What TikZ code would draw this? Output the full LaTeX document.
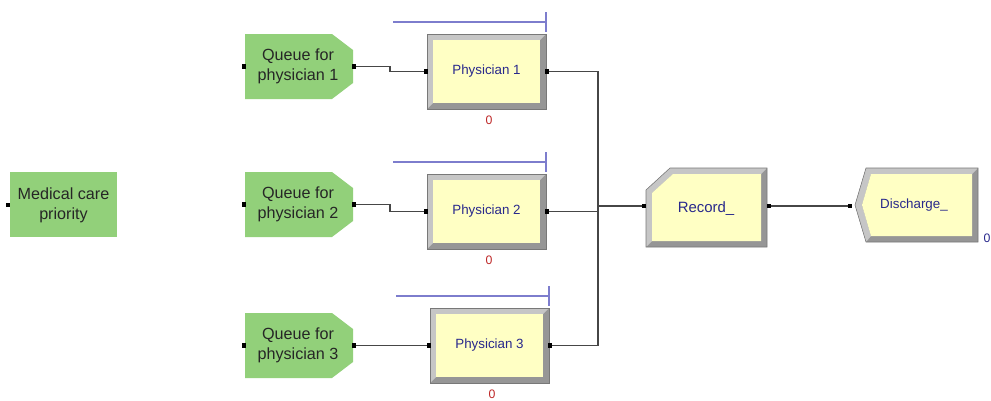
\documentclass[tikz,border=0pt]{standalone}
\usepackage{fontspec}
\setmainfont{Liberation Sans}
\usetikzlibrary{positioning, calc}
\definecolor{arenagreen}{RGB}{146,208,122}
\definecolor{procfill}{RGB}{255,255,196}
\definecolor{bevlight}{RGB}{198,198,198}
\definecolor{bevdark}{RGB}{150,150,150}
\definecolor{bevline}{RGB}{120,120,120}
\definecolor{procblue}{RGB}{40,40,140}
\definecolor{cntred}{RGB}{190,40,40}
\definecolor{barblue}{RGB}{125,125,205}
\definecolor{linegray}{RGB}{70,70,70}

\begin{document}
\begin{tikzpicture}[x=0.02cm, y=-0.02cm,
  conn/.style={draw=linegray, line width=0.6pt},
  pdot/.style={rectangle, fill=black, inner sep=0pt, minimum size=2.4pt},
  qtext/.style={align=center, text=black!85, font=\fontsize{9.2}{11.2}\selectfont},
  ptext/.style={text=procblue, font=\fontsize{7.6}{9}\selectfont},
  cnt/.style={text=cntred, font=\fontsize{7}{8}\selectfont},
  bar/.style={draw=barblue, line width=0.6pt}]
\useasboundingbox (0,0) rectangle (991,400);

% entry module
\fill[arenagreen] (10,172) rectangle (117,237);
\node[qtext] (prio) at (63.5,205) {Medical care\\priority};
\node[pdot] (prioin) at (8,205) {};

% queues and physicians
\foreach \i/\qy/\px/\py in {1/34/427/34, 2/172/427/174, 3/313/430/308} {
  \fill[arenagreen] (245,\qy) -- (332,\qy) -- (353,\qy+16) -- (353,\qy+49)
    -- (332,\qy+65) -- (245,\qy+65) -- cycle;
  \node[qtext] (queue\i) at (298,\qy+32.5) {Queue for\\physician \i};
  \node[pdot] (qin\i) at (244,\qy+32.5) {};
  \node[pdot] (qout\i) at (354,\qy+32.5) {};
  \fill[bevdark] (\px,\py) rectangle (\px+119,\py+75);
  \fill[bevlight] (\px,\py+75) -- (\px,\py) -- (\px+119,\py) -- (\px+113,\py+6)
    -- (\px+6,\py+6) -- (\px+6,\py+69) -- cycle;
  \fill[procfill] (\px+6,\py+6) rectangle (\px+113,\py+69);
  \draw[bevline, line width=0.3pt] (\px,\py) rectangle (\px+119,\py+75);
  \node[ptext] (phys\i) at (\px+59.5,\py+37.5) {Physician \i};
  \node[pdot] (pin\i) at (\px-1,\py+37.5) {};
  \node[pdot] (pout\i) at (\px+120,\py+37.5) {};
  \draw[bar] (\px-34,\py-12) -- (\px+119,\py-12) ++(0,-10) -- ++(0,20);
  \node[cnt] (busy\i) at (\px+62,\py+86) {0};
  \draw[conn] (qout\i) -- ++(36,0) |- (pin\i);
}

% record
\fill[bevdark] (646,190) -- (670,168) -- (767,168) -- (767,247) -- (646,247) -- cycle;
\fill[bevlight] (646,247) -- (646,190) -- (670,168) -- (767,168) -- (761,174)
  -- (673,174) -- (652,193) -- (652,241) -- cycle;
\fill[procfill] (652,193) -- (673,174) -- (761,174) -- (761,241) -- (652,241) -- cycle;
\draw[bevline, line width=0.3pt] (646,190) -- (670,168) -- (767,168) -- (767,247) -- (646,247) -- cycle;
\node[ptext, font=\fontsize{8.5}{10}\selectfont] (record) at (706,209) {Record\_};
\node[pdot] (recin) at (644,206) {};
\node[pdot] (recout) at (769,206) {};

% discharge
\fill[bevdark] (866,168) -- (978,168) -- (978,242) -- (866,242) -- (855,205) -- cycle;
\fill[bevlight] (866,242) -- (855,205) -- (866,168) -- (978,168) -- (972,174)
  -- (871,174) -- (862,205) -- (871,236) -- cycle;
\fill[procfill] (871,174) -- (972,174) -- (972,236) -- (871,236) -- (862,205) -- cycle;
\draw[bevline, line width=0.3pt] (866,168) -- (978,168) -- (978,242) -- (866,242) -- (855,205) -- cycle;
\node[ptext] (discharge) at (914,205) {Discharge\_};
\node[pdot] (disin) at (850,206) {};
\node[cnt, text=procblue] (disout) at (987,238) {0};

% connectors
\coordinate (junc) at (598,206);
\draw[conn] (pout1) -| (junc) -- (recin);
\draw[conn] (pout3) -| (junc);
\draw[conn] (pout2) -- (pout2 -| junc);
\draw[conn] (recout) -- (disin);
\end{tikzpicture}
\end{document}
